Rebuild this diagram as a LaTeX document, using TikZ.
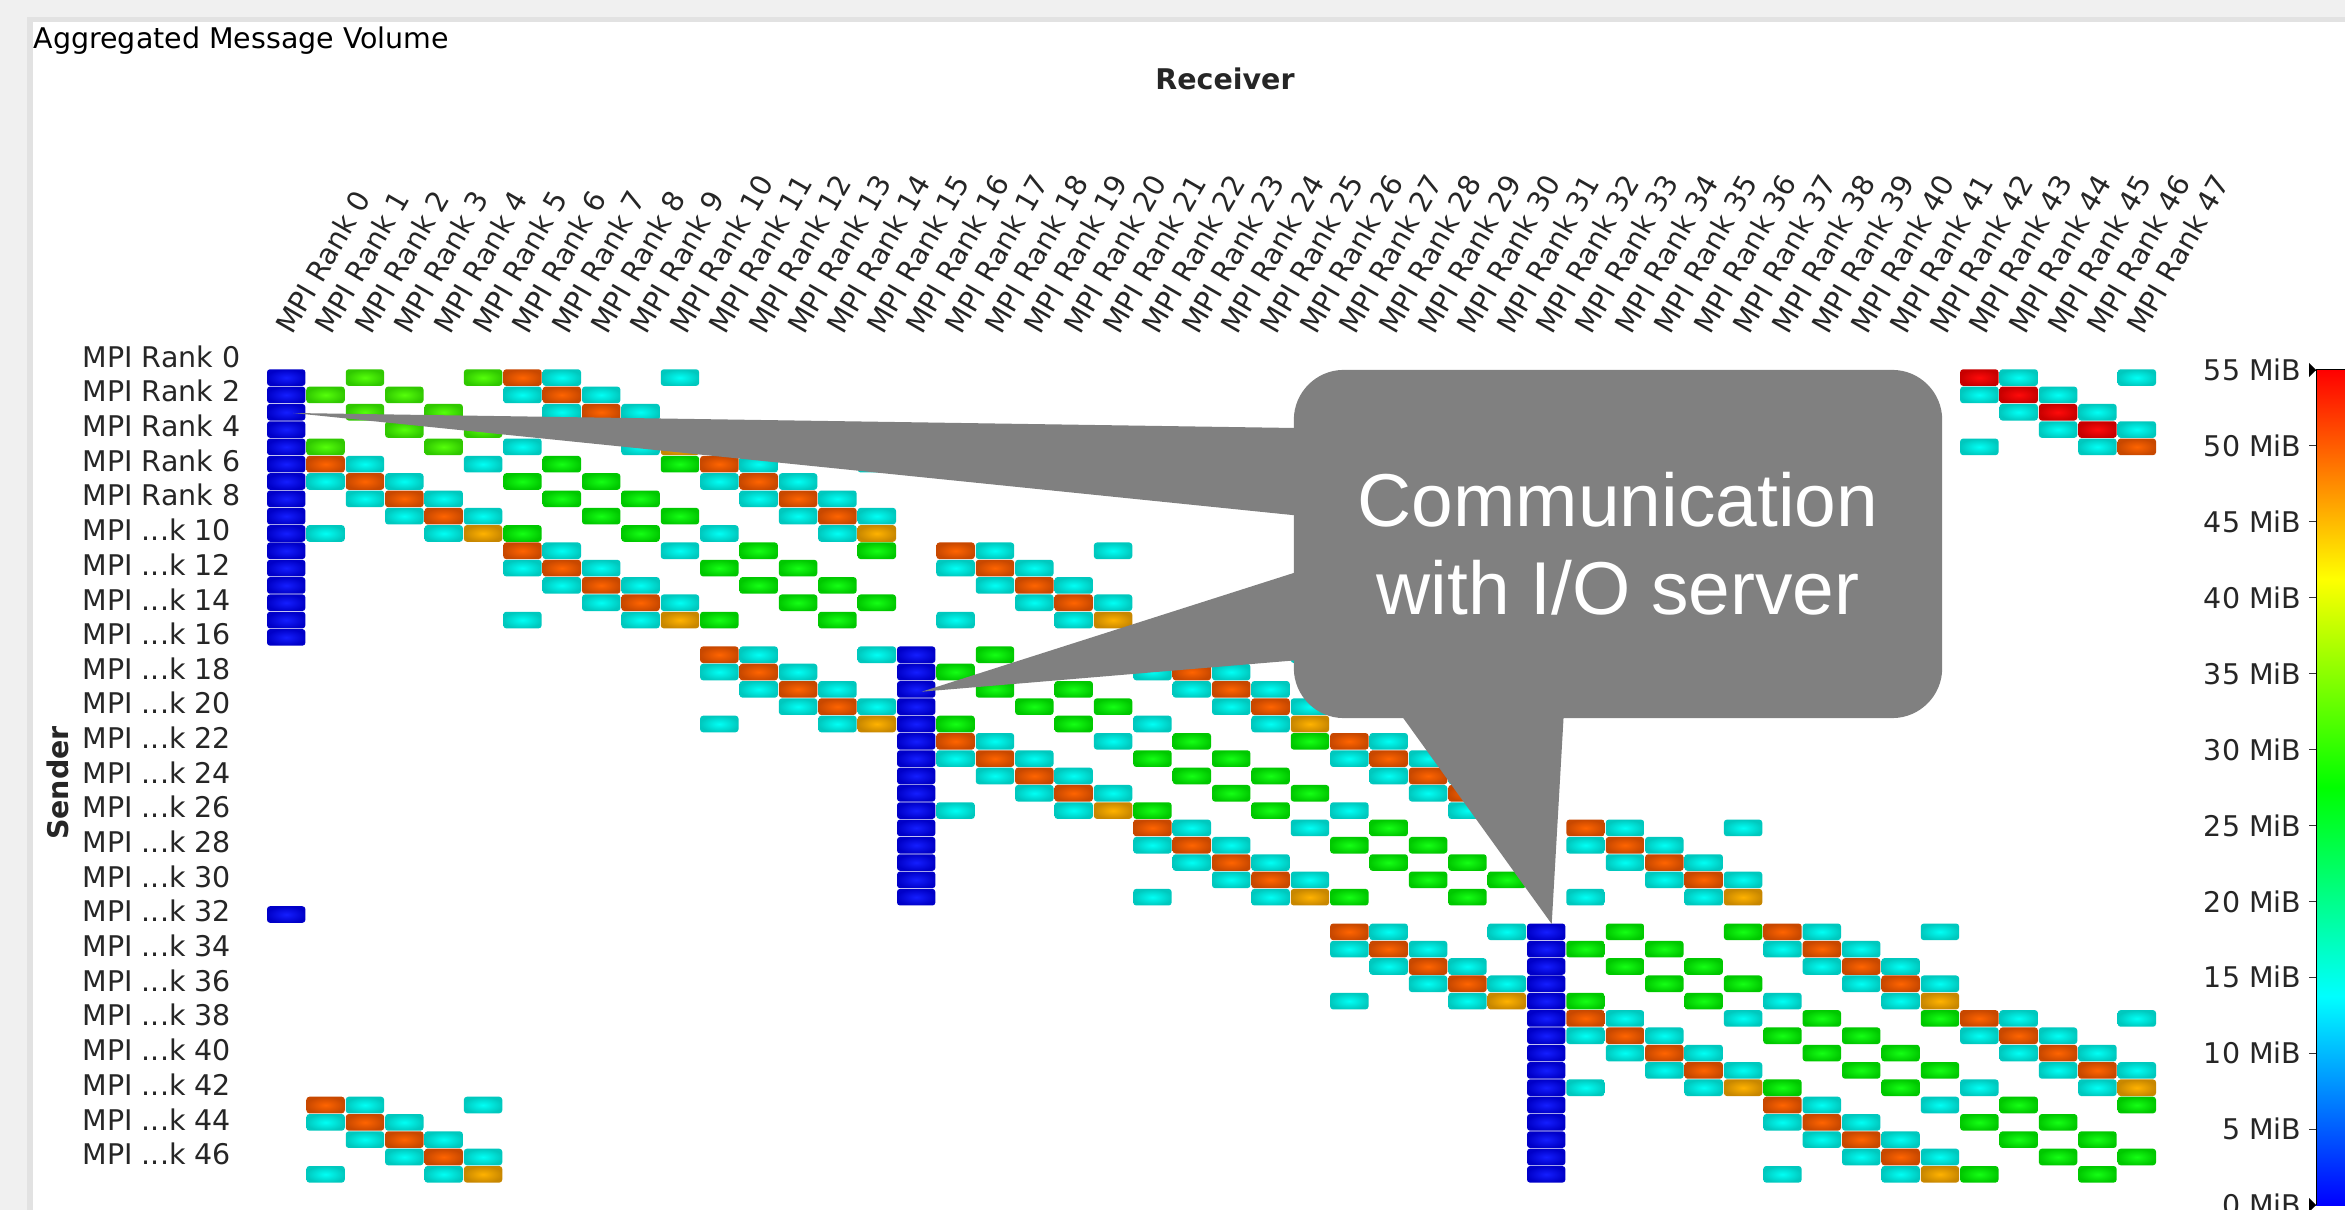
\documentclass[tikz,border=0pt]{standalone}
\usepackage{fontspec}
\newfontfamily\chartfont{DejaVu Sans}
\newfontfamily\notefont{Liberation Sans}
\usetikzlibrary{calc}

\definecolor{panelgray}{RGB}{240,240,240}
\definecolor{shadowgray}{RGB}{226,226,226}
\definecolor{notegray}{RGB}{128,128,128}
\definecolor{blueLo}{RGB}{0,0,200}
\definecolor{blueHi}{RGB}{20,30,255}
\definecolor{cyanLo}{RGB}{0,200,190}
\definecolor{cyanHi}{RGB}{0,255,245}
\definecolor{greenLo}{RGB}{0,200,0}
\definecolor{greenHi}{RGB}{20,255,20}
\definecolor{limeLo}{RGB}{48,200,0}
\definecolor{limeHi}{RGB}{85,255,10}
\definecolor{orangeLo}{RGB}{200,72,0}
\definecolor{orangeHi}{RGB}{255,100,0}
\definecolor{amberLo}{RGB}{200,135,0}
\definecolor{amberHi}{RGB}{255,178,0}
\definecolor{redLo}{RGB}{200,0,0}
\definecolor{redHi}{RGB}{255,10,10}

% the path box is mapped onto 25bp..75bp of the shading
\pgfdeclareverticalshading{msgscale}{100bp}{color(0bp)=(blue); color(25bp)=(blue); color(37.5bp)=(cyan); color(50bp)=(green); color(62.5bp)=(yellow); color(75bp)=(red); color(100bp)=(red)}

\begin{document}
\begin{tikzpicture}[
    x=0.01cm, y=-0.01cm,
    every node/.style={inner sep=0pt, text=black!85, font=\chartfont\fontsize{8.1}{9.7}\selectfont},
    axis title/.style={font=\chartfont\bfseries\fontsize{8.1}{9.7}\selectfont},
    rank head/.style={rotate=60, anchor=base west},
    rank row/.style={anchor=west},
    tick label/.style={anchor=east},
    cell/.style={rounded corners=0.3mm},
    cellB/.style={cell, inner color=blueHi, outer color=blueLo},
    cellC/.style={cell, inner color=cyanHi, outer color=cyanLo},
    cellG/.style={cell, inner color=greenHi, outer color=greenLo},
    cellL/.style={cell, inner color=limeHi, outer color=limeLo},
    cellO/.style={cell, inner color=orangeHi, outer color=orangeLo},
    cellA/.style={cell, inner color=amberHi, outer color=amberLo},
    cellR/.style={cell, inner color=redHi, outer color=redLo},
    note/.style={fill=notegray, text=white, rounded corners=5mm, minimum width=6.48cm,
      minimum height=3.48cm, align=center, font=\notefont\fontsize{21.3}{25.1}\selectfont},
    wedge/.style={fill=notegray}
]
\useasboundingbox (0,0) rectangle (2345,1210);

% panel
\fill[panelgray] (0,0) rectangle (2345,1210);
\fill[shadowgray] (27,17) rectangle (2345,1210);
\fill[white] (33,22) rectangle (2345,1210);

% titles
\node[anchor=base west, text=black] (title) at (33,48.5) {Aggregated Message Volume};
\node[axis title] (receiver) at (1225,79) {Receiver};
\node[axis title, rotate=90] (sender) at (58,783) {Sender};

% receiver ranks
\foreach \c in {0,...,47}
  \node[rank head] (col\c) at (292.2+39.375*\c,336) {MPI Rank \c};

% sender ranks
\foreach \k in {0,...,23} {
  \pgfmathtruncatemacro\rk{2*\k}
  \ifnum\rk<10 \def\rowtext{MPI Rank \rk}\else\def\rowtext{MPI ...k \rk}\fi
  \node[rank row] (row\rk) at (82,356.7+34.66*\k) {\rowtext};
}

% matrix cells
\foreach \r in {0,...,15,31}
  \path[cellB] (267,369.3+17.32*\r) rectangle ++(38.4,16.6);
\foreach \r in {16,...,30}
  \path[cellB] (267+39.375*16,369.3+17.32*\r) rectangle ++(38.4,16.6);
\foreach \r in {32,...,46}
  \path[cellB] (267+39.375*32,369.3+17.32*\r) rectangle ++(38.4,16.6);

\foreach \r/\cols in {0/{7,10,44,47},1/{6,8,43,45},2/{7,9,44,46},3/{8,10,45,47},4/{6,9,43,46},
    5/{2,5,12,15},6/{1,3,11,13},7/{2,4,12,14},8/{3,5,13,15},9/{1,4,11,14},
    10/{7,10,18,21},11/{6,8,17,19},12/{7,9,18,20},13/{8,10,19,21},14/{6,9,17,20},
    16/{12,15,23,26},17/{11,13,22,24},18/{12,14,23,25},19/{13,15,24,26},20/{11,14,22,25},
    21/{18,21,28,31},22/{17,19,27,29},23/{18,20,28,30},24/{19,21,29,31},25/{17,20,27,30},
    26/{23,26,34,37},27/{22,24,33,35},28/{23,25,34,36},29/{24,26,35,37},30/{22,25,33,36},
    32/{28,31,39,42},33/{27,29,38,40},34/{28,30,39,41},35/{29,31,40,42},36/{27,30,38,41},
    37/{34,37,44,47},38/{33,35,43,45},39/{34,36,44,46},40/{35,37,45,47},41/{33,36,43,46},
    42/{2,5,39,42},43/{1,3,38,40},44/{2,4,39,41},45/{3,5,40,42},46/{1,4,38,41}}
  \foreach \c in \cols
    \path[cellC] (267+39.375*\c,369.3+17.32*\r) rectangle ++(38.4,16.6);

\foreach \r/\cols in {0/{6},1/{7},2/{8},3/{9},4/{47},
    5/{1,11},6/{2,12},7/{3,13},8/{4,14},
    10/{6,17},11/{7,18},12/{8,19},13/{9,20},
    16/{11,22},17/{12,23},18/{13,24},19/{14,25},
    21/{17,27},22/{18,28},23/{19,29},24/{20,30},
    26/{22,33},27/{23,34},28/{24,35},29/{25,36},
    32/{27,38},33/{28,39},34/{29,40},35/{30,41},
    37/{33,43},38/{34,44},39/{35,45},40/{36,46},
    42/{1,38},43/{2,39},44/{3,40},45/{4,41}}
  \foreach \c in \cols
    \path[cellO] (267+39.375*\c,369.3+17.32*\r) rectangle ++(38.4,16.6);

\foreach \r/\cols in {4/{10},9/{5,15},14/{10,21},20/{15,26},25/{21,31},
    30/{26,37},36/{31,42},41/{37,47},46/{5,42}}
  \foreach \c in \cols
    \path[cellA] (267+39.375*\c,369.3+17.32*\r) rectangle ++(38.4,16.6);

\foreach \r/\c in {0/43,1/44,2/45,3/46}
  \path[cellR] (267+39.375*\c,369.3+17.32*\r) rectangle ++(38.4,16.6);

\foreach \r/\cols in {0/{2,5},1/{1,3},2/{2,4},3/{3,5},4/{1,4}}
  \foreach \c in \cols
    \path[cellL] (267+39.375*\c,369.3+17.32*\r) rectangle ++(38.4,16.6);

\foreach \r/\cols in {5/{7,10},6/{6,8},7/{7,9},8/{8,10},9/{6,9},
    10/{12,15},11/{11,13},12/{12,14},13/{13,15},14/{11,14},
    16/{18,21},17/{17,19},18/{18,20},19/{19,21},20/{17,20},
    21/{23,26},22/{22,24},23/{23,25},24/{24,26},25/{22,25},
    26/{28,31},27/{27,29},28/{28,30},29/{29,31},30/{27,30},
    32/{34,37},33/{33,35},34/{34,36},35/{35,37},36/{33,36},
    37/{39,42},38/{38,40},39/{39,41},40/{40,42},41/{38,41},
    42/{44,47},43/{43,45},44/{44,46},45/{45,47},46/{43,46}}
  \foreach \c in \cols
    \path[cellG] (267+39.375*\c,369.3+17.32*\r) rectangle ++(38.4,16.6);

% colour scale
\path[shading=msgscale] (2316,370) rectangle (2345,1205);
\draw[black, line width=0.1mm] (2345,370) -- (2316,370) -- (2316,1205);
\foreach \v in {0,5,...,55} {
  \draw[black!80, line width=0.1mm] (2309,1205-15.18*\v) -- (2316,1205-15.18*\v);
  \node[tick label] (tick\v) at (2302,1205-15.18*\v) {\v\ MiB};
}
\fill[black] (2309,363) -- (2316,370) -- (2309,377) -- cycle;
\fill[black] (2309,1198) -- (2316,1205) -- (2309,1212) -- cycle;

% callout
\node[note] (note) at (1618,544) {Communication\\with I/O server};
\coordinate (tipA) at (293,413);
\coordinate (tipB) at (921.7,691.7);
\coordinate (tipC) at (1551.7,924);
\fill[wedge] (tipA) -- ($(note.west |- 0,428.5)+(35,0)$) -- ($(note.west |- 0,518.7)+(35,0)$) -- cycle;
\fill[wedge] (tipB) -- ($(note.west |- 0,562)+(35,0)$) -- ($(note.west |- 0,657.6)+(35,0)$) -- cycle;
\fill[wedge] (tipC) -- ($(note.south -| 1383.6,0)+(0,-28)$) -- ($(note.south -| 1565.1,0)+(0,-28)$) -- cycle;
\end{tikzpicture}
\end{document}
